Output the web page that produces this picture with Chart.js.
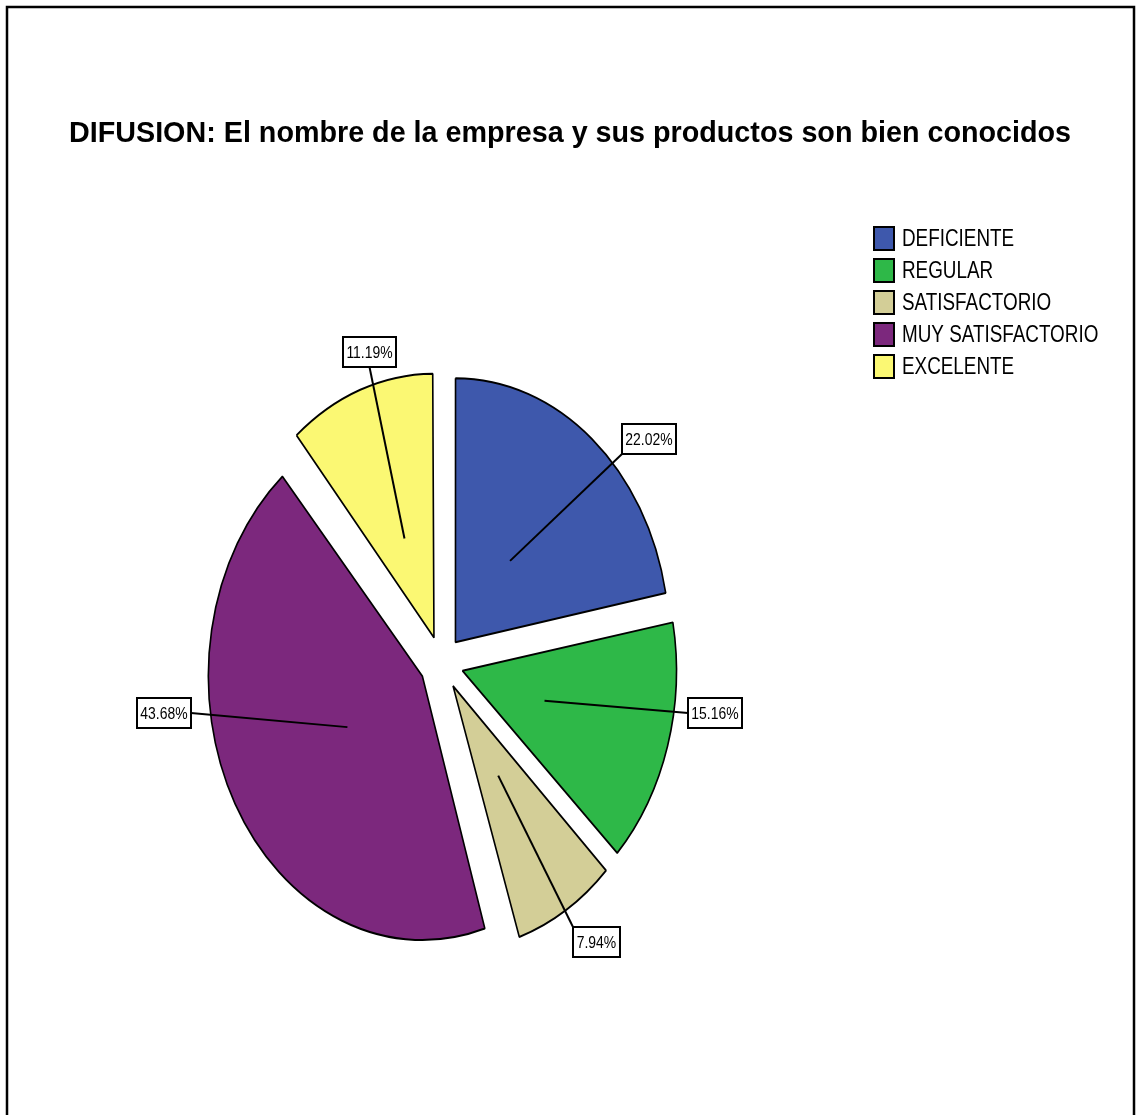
<!DOCTYPE html>
<html>
<head>
<meta charset="utf-8">
<title>DIFUSION</title>
<script src="https://cdn.jsdelivr.net/npm/chart.js@4.4.1/dist/chart.umd.min.js"></script>
<style>
  html, body { margin: 0; padding: 0; background: #fff; }
  canvas { display: block; }
</style>
</head>
<body>
<canvas id="difusionChart" width="1136" height="1115"></canvas>
<script>
// Answers to "El nombre de la empresa y sus productos son bien conocidos" (% of responses)
const categories = ['DEFICIENTE', 'REGULAR', 'SATISFACTORIO', 'MUY SATISFACTORIO', 'EXCELENTE'];
const percentages = [22.02, 15.16, 7.94, 43.68, 11.19];
const sliceColors = ['#3e58ac', '#2eb848', '#d3ce97', '#7c287d', '#fbf873'];
const chartTitle = 'DIFUSION: El nombre de la empresa y sus productos son bien conocidos';

// where each value box sits, relative to the pie centre in units of the x / y radius
const labelSpots = [[0.97, -0.848], [1.278, 0.189], [0.722, 1.057], [-1.297, 0.189], [-0.336, -1.178]];

const PIE_RADIUS = 264;       // vertical radius
const X_SQUASH = 214 / 264;   // pie is drawn as an upright ellipse
const EXPLODE = 108;          // Chart.js moves each arc by offset / 4
const SANS = '"Liberation Sans", Arial, sans-serif';
const NARROW = 0.82;          // Arial Narrow is Arial squeezed to 82%

/**
 * Draw text squeezed horizontally (no narrow font installed)
 */
function narrowText(ctx, text, x, y, align) {
    const w = ctx.measureText(text).width * NARROW;
    let left = x;
    if (align === 'center') left = x - w / 2;
    ctx.save();
    ctx.textAlign = 'left';
    ctx.translate(left, y);
    ctx.scale(NARROW, 1);
    ctx.fillText(text, 0, 0);
    ctx.restore();
    return w;
}

/**
 * White page with the black frame
 */
const framePlugin = {
    id: 'frame',
    beforeDraw(chart) {
        const ctx = chart.ctx;
        ctx.save();
        ctx.fillStyle = '#fff';
        ctx.fillRect(0, 0, chart.width, chart.height);
        ctx.strokeStyle = '#000';
        ctx.lineWidth = 2.5;
        ctx.strokeRect(7, 7, 1127, 1300);
        ctx.restore();
    }
};

/**
 * Squash the pie into an ellipse and keep every exploded slice at the same radius
 */
const ellipsePie = {
    id: 'ellipsePie',
    beforeDatasetsDraw(chart) {
        const meta = chart.getDatasetMeta(0);
        const shift = EXPLODE / 4;
        meta.data.forEach(arc => {
            const sweep = arc.endAngle - arc.startAngle;
            // Chart.js grows offset arcs a bit, take that back out
            arc.outerRadius = PIE_RADIUS - shift * (1 - Math.sin(Math.min(Math.PI, sweep)));
        });
        const { x, y } = meta.data[0];
        const ctx = chart.ctx;
        ctx.save();
        ctx.translate(x, y);
        ctx.scale(X_SQUASH, 1);
        ctx.translate(-x, -y);
    },
    afterDatasetsDraw(chart) {
        chart.ctx.restore();
    }
};

/**
 * Title, legend and the boxed percentage labels with their leader lines
 */
const annotate = {
    id: 'annotate',
    afterDraw(chart) {
        const ctx = chart.ctx;
        const meta = chart.getDatasetMeta(0);
        ctx.save();

        // title, fitted to its line width
        ctx.font = 'bold 30px ' + SANS;
        ctx.fillStyle = '#000';
        ctx.textAlign = 'center';
        ctx.textBaseline = 'alphabetic';
        const tw = ctx.measureText(chartTitle).width;
        ctx.save();
        ctx.translate(570, 142);
        ctx.scale(1002 / tw, 1);
        ctx.fillText(chartTitle, 0, 0);
        ctx.restore();

        // legend
        ctx.font = '23px ' + SANS;
        ctx.textBaseline = 'middle';
        categories.forEach((name, i) => {
            const top = 227 + i * 32;
            ctx.fillStyle = sliceColors[i];
            ctx.fillRect(874, top, 20, 23);
            ctx.strokeStyle = '#000';
            ctx.lineWidth = 2;
            ctx.strokeRect(874, top, 20, 23);
            ctx.fillStyle = '#000';
            narrowText(ctx, name, 902, top + 13, 'left');
        });

        // value labels
        const shift = EXPLODE / 4;
        ctx.font = '17px ' + SANS;
        meta.data.forEach((arc, i) => {
            const mid = (arc.startAngle + arc.endAngle) / 2;
            const reach = shift + 0.4 * PIE_RADIUS;
            const ix = arc.x + reach * Math.cos(mid) * X_SQUASH;
            const iy = arc.y + reach * Math.sin(mid);

            const text = percentages[i].toFixed(2) + '%';
            const w = Math.round(ctx.measureText(text).width * NARROW + 7);
            const h = 30;
            const bx = Math.round(arc.x + labelSpots[i][0] * PIE_RADIUS * X_SQUASH - w / 2);
            const by = Math.round(arc.y + labelSpots[i][1] * PIE_RADIUS - h / 2);

            // line runs to the nearest corner or edge middle of the box
            const anchors = [];
            [0, 0.5, 1].forEach(fx => [0, 0.5, 1].forEach(fy => {
                if (fx === 0.5 && fy === 0.5) return;
                const corner = fx !== 0.5 && fy !== 0.5;
                const ax = bx + fx * w, ay = by + fy * h;
                anchors.push({ ax, ay, d: Math.hypot(ax - ix, ay - iy) * (corner ? 1.03 : 1) });
            }));
            anchors.sort((a, b) => a.d - b.d);

            ctx.strokeStyle = '#000';
            ctx.lineWidth = 2;
            ctx.beginPath();
            ctx.moveTo(ix, iy);
            ctx.lineTo(anchors[0].ax, anchors[0].ay);
            ctx.stroke();

            ctx.fillStyle = '#fff';
            ctx.fillRect(bx, by, w, h);
            ctx.strokeRect(bx, by, w, h);
            ctx.fillStyle = '#000';
            narrowText(ctx, text, bx + w / 2, by + h / 2 + 1, 'center');
        });

        ctx.restore();
    }
};

const ctx = document.getElementById('difusionChart').getContext('2d');

new Chart(ctx, {
    type: 'pie',
    data: {
        labels: categories,
        datasets: [{
            data: percentages,
            backgroundColor: sliceColors,
            borderColor: '#000',
            borderWidth: 2,
            borderJoinStyle: 'bevel',
            offset: EXPLODE,
            radius: PIE_RADIUS,
            clip: false
        }]
    },
    options: {
        responsive: false,
        animation: false,
        devicePixelRatio: 1,
        layout: {
            // centre of the chart area is the centre of the pie
            padding: { left: 0, right: 253, top: 211, bottom: 0 }
        },
        plugins: {
            legend: { display: false },
            title: { display: false },
            tooltip: { enabled: false }
        }
    },
    plugins: [framePlugin, ellipsePie, annotate]
});
</script>
</body>
</html>
